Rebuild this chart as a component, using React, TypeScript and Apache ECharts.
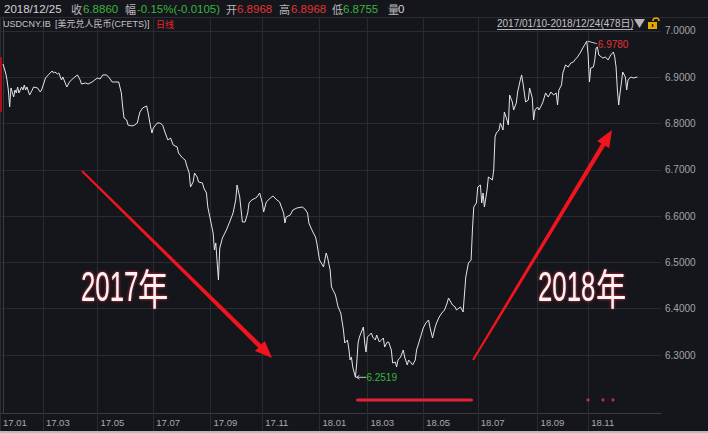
import React, { useEffect, useRef } from "react";
import * as echarts from "echarts";

// trading-day index (0 = 2017/01/10, 477 = 2018/12/24) and USDCNY rate
const tradingDays = [
  0, 2, 3, 4, 5, 6, 8, 9, 10, 11,
  12, 14, 15, 16, 17, 18, 20, 22, 23, 26,
  28, 29, 32, 34, 37, 38, 39, 41, 42, 44,
  45, 48, 50, 53, 56, 58, 59, 62, 64, 67,
  69, 71, 73, 75, 78, 80, 82, 84, 87, 89,
  90, 91, 93, 94, 97, 99, 101, 102, 103, 105,
  108, 109, 111, 112, 113, 116, 118, 120, 122, 124,
  126, 128, 131, 132, 135, 137, 138, 140, 141, 143,
  144, 146, 147, 150, 151, 153, 154, 156, 158, 159,
  160, 162, 163, 165, 168, 171, 173, 175, 176, 178,
  180, 182, 184, 185, 187, 190, 191, 193, 195, 196,
  198, 201, 203, 206, 208, 211, 212, 213, 216, 218,
  221, 225, 227, 229, 230, 233, 235, 236, 238, 241,
  243, 244, 246, 247, 250, 252, 254, 256, 257, 259,
  260, 261, 262, 263, 265, 266, 267, 268, 271, 272,
  273, 274, 277, 278, 280, 281, 283, 286, 287, 289,
  290, 292, 293, 295, 296, 297, 299, 301, 302, 304,
  305, 307, 308, 310, 311, 314, 316, 318, 320, 321,
  323, 325, 326, 328, 330, 332, 334, 335, 338, 340,
  341, 344, 346, 348, 350, 352, 353, 354, 356, 357,
  359, 360, 361, 362, 364, 365, 368, 369, 370, 371,
  373, 374, 376, 377, 379, 380, 381, 383, 384, 386,
  387, 389, 390, 391, 393, 395, 396, 398, 399, 400,
  402, 403, 405, 406, 408, 410, 412, 414, 416, 417,
  418, 420, 421, 423, 425, 427, 429, 430, 432, 434,
  436, 439, 440, 441, 442, 444, 445, 446, 447, 448,
  450, 451, 453, 455, 457, 459, 460, 461, 462, 463,
  464, 465, 466, 468, 469, 470, 472, 474, 477,
];

const closeRates = [
  6.9287, 6.9093, 6.8942, 6.8725, 6.8358, 6.8769, 6.8574, 6.8725, 6.8661, 6.879,
  6.8661, 6.879, 6.8725, 6.8833, 6.8725, 6.879, 6.8617, 6.8725, 6.879, 6.8769,
  6.8682, 6.8725, 6.8985, 6.905, 6.9136, 6.9093, 6.9114, 6.9071, 6.9093, 6.8942,
  6.9006, 6.879, 6.8898, 6.8985, 6.905, 6.8942, 6.8855, 6.8877, 6.8855, 6.8898,
  6.8942, 6.8985, 6.8963, 6.905, 6.905, 6.8985, 6.8898, 6.8898, 6.8898, 6.8661,
  6.8358, 6.8121, 6.8077, 6.7969, 6.7948, 6.7969, 6.8012, 6.8142, 6.825, 6.8337,
  6.838, 6.825, 6.7926, 6.7796, 6.7904, 6.8012, 6.8012, 6.7969, 6.7796, 6.7645,
  6.7688, 6.7537, 6.7494, 6.7364, 6.7256, 6.7213, 6.7105, 6.6932, 6.663, 6.6738,
  6.6932, 6.6846, 6.6738, 6.6716, 6.6608, 6.65, 6.6198, 6.5917, 6.5636, 6.5269,
  6.542, 6.4621, 6.5312, 6.5528, 6.5701, 6.5917, 6.6068, 6.6349, 6.6673, 6.6414,
  6.5874, 6.5874, 6.6068, 6.6284, 6.6349, 6.6392, 6.6414, 6.65, 6.6284, 6.609,
  6.6306, 6.6392, 6.6435, 6.6349, 6.6306, 6.6068, 6.5852, 6.5982, 6.6025, 6.6133,
  6.6176, 6.6198, 6.6155, 6.6068, 6.5852, 6.5658, 6.555, 6.542, 6.5053, 6.4902,
  6.5204, 6.5118, 6.4837, 6.447, 6.4297, 6.4038, 6.3908, 6.3541, 6.326, 6.3325,
  6.3152, 6.2893, 6.2957, 6.2741, 6.2519, 6.2828, 6.326, 6.3389, 6.3606, 6.326,
  6.3065, 6.3389, 6.3476, 6.3389, 6.3325, 6.3433, 6.3281, 6.3368, 6.3173, 6.3281,
  6.3281, 6.3109, 6.2828, 6.2849, 6.2741, 6.2893, 6.2957, 6.3109, 6.2957, 6.2785,
  6.2893, 6.2828, 6.2785, 6.2893, 6.3109, 6.3389, 6.3584, 6.3692, 6.3757, 6.3606,
  6.3368, 6.3606, 6.3692, 6.3822, 6.3908, 6.3973, 6.4124, 6.4232, 6.4081, 6.4038,
  6.3973, 6.4038, 6.393, 6.4686, 6.4988, 6.5053, 6.5701, 6.6198, 6.6284, 6.663,
  6.6673, 6.6284, 6.65, 6.6198, 6.6565, 6.6846, 6.6781, 6.6997, 6.771, 6.7796,
  6.7861, 6.8012, 6.7861, 6.825, 6.8077, 6.7969, 6.8617, 6.8466, 6.8293, 6.8445,
  6.8682, 6.8942, 6.905, 6.8877, 6.8466, 6.8509, 6.8769, 6.8553, 6.8077, 6.8293,
  6.8358, 6.8293, 6.8401, 6.8466, 6.8661, 6.8574, 6.8682, 6.8617, 6.8661, 6.8401,
  6.8725, 6.8833, 6.9093, 6.9266, 6.9222, 6.9309, 6.933, 6.9374, 6.9438, 6.9525,
  6.9633, 6.978, 6.9481, 6.8898, 6.9201, 6.9222, 6.9374, 6.9633, 6.9654, 6.9481,
  6.9438, 6.9417, 6.9438, 6.9374, 6.9481, 6.9546, 6.9438, 6.9222, 6.8725, 6.8401,
  6.8661, 6.8877, 6.9114, 6.9006, 6.8725, 6.8942, 6.9006, 6.8985, 6.9006,
];

const monthTickDays = [-2.2, 30, 71, 113, 156, 195, 238, 274, 316, 357, 402, 440];
const monthTickLabels = ["17.01", "17.03", "17.05", "17.07", "17.09", "17.11", "18.01", "18.03", "18.05", "18.07", "18.09", "18.11"];
const priceTicks = [6.3, 6.4, 6.5, 6.6, 6.7, 6.8, 6.9, 7.0];

const BG = "#15161b";
const GRID = "#2a2b31";
const FONT = '"Liberation Sans", "Noto Sans CJK SC", sans-serif';
const CJK = '"Noto Sans CJK SC", "Liberation Sans", sans-serif';
const GREEN = "#38b43c";
const RED = "#e03434";
const ARROW_RED = "#f0141e";

function arrowPoints(x1: number, y1: number, x2: number, y2: number, w1: number, w2: number, hl: number, hw: number) {
  const dx = x2 - x1, dy = y2 - y1;
  const len = Math.sqrt(dx * dx + dy * dy);
  const ux = dx / len, uy = dy / len;
  const nx = -uy, ny = ux;
  const bx = x2 - ux * hl, by = y2 - uy * hl;
  return [
    [x1 + nx * w1 / 2, y1 + ny * w1 / 2],
    [bx + nx * w2 / 2, by + ny * w2 / 2],
    [bx + nx * hw / 2, by + ny * hw / 2],
    [x2, y2],
    [bx - nx * hw / 2, by - ny * hw / 2],
    [bx - nx * w2 / 2, by - ny * w2 / 2],
    [x1 - nx * w1 / 2, y1 - ny * w1 / 2],
  ];
}

function txt(text: string, x: number, y: number, fill: string, size: number, family = FONT, extra: any = {}) {
  return {
    type: "text",
    x,
    y,
    z: 100,
    silent: true,
    style: { text, fill, fontSize: size, fontFamily: family, verticalAlign: "middle", align: "left", ...extra },
  };
}

export default function App() {
  const ref = useRef<HTMLDivElement>(null);

  useEffect(() => {
    const chart = echarts.init(ref.current!, null, { renderer: "svg" });
    const option: any = {
      animation: false,
      backgroundColor: BG,
      grid: { left: 0, right: 47, top: 17, bottom: 20, containLabel: false },
      xAxis: {
        type: "value",
        min: -2.26,
        max: 494.8,
        axisLine: { show: true, lineStyle: { color: "#3a3b41", width: 1 } },
        axisTick: { show: true, customValues: monthTickDays, length: 18, lineStyle: { color: GRID } },
        axisLabel: {
          customValues: monthTickDays,
          formatter: (v: number) => {
            let best = 0;
            monthTickDays.forEach((m, i) => {
              if (Math.abs(m - v) < Math.abs(monthTickDays[best] - v)) best = i;
            });
            return monthTickLabels[best];
          },
          align: "left",
          padding: [0, 0, 0, 3],
          margin: 5,
          color: "#a9a9ad",
          fontSize: 9.5,
          fontFamily: FONT,
        },
        splitLine: { show: true, lineStyle: { color: GRID, width: 1 } },
      },
      yAxis: {
        type: "value",
        position: "right",
        min: 6.1748,
        max: 7.0302,
        axisLine: { show: true, lineStyle: { color: "#3a3b41" } },
        axisTick: { show: false, customValues: priceTicks },
        axisLabel: {
          customValues: priceTicks,
          formatter: (v: number) => v.toFixed(4),
          margin: 4,
          color: "#a4a4a8",
          fontSize: 10,
          fontFamily: FONT,
        },
        splitLine: { show: true, lineStyle: { color: GRID, width: 1 } },
      },
      series: [
        {
          type: "line",
          data: tradingDays.map((d, i) => [d, closeRates[i]]),
          showSymbol: false,
          symbol: "none",
          lineStyle: { color: "#e4e4e6", width: 1 },
          z: 5,
        },
      ],
    };
    chart.setOption(option);

    let maxI = 0, minI = 0;
    closeRates.forEach((v, i) => {
      if (v > closeRates[maxI]) maxI = i;
      if (v < closeRates[minI]) minI = i;
    });
    const pMax = chart.convertToPixel({ gridIndex: 0 }, [tradingDays[maxI], closeRates[maxI]]) as number[];
    const pMin = chart.convertToPixel({ gridIndex: 0 }, [tradingDays[minI], closeRates[minI]]) as number[];

    const graphics: any[] = [
      // header separator
      { type: "line", z: 90, silent: true, shape: { x1: 0, y1: 17.5, x2: 708, y2: 17.5 }, style: { stroke: "#2c2d33", lineWidth: 1 } },
      // bottom strip
      { type: "rect", z: 90, silent: true, shape: { x: 0, y: 431, width: 708, height: 2 }, style: { fill: "#b9b9bd" } },
      // left red bar
      { type: "rect", z: 90, silent: true, shape: { x: 0, y: 57, width: 2, height: 55 }, style: { fill: "#a8101e" } },

      // header row 1
      txt("2018/12/25", 4, 9, "#d2d2d4", 11.5),
      txt("收", 71, 9, "#b8b8bb", 11, CJK),
      txt("6.8860", 83, 9, GREEN, 11.5),
      txt("幅", 125, 9, "#b8b8bb", 11, CJK),
      txt("-0.15%(-0.0105)", 137, 9, GREEN, 11.5),
      txt("开", 226, 9, "#b8b8bb", 11, CJK),
      txt("6.8968", 237, 9, RED, 11.5),
      txt("高", 279, 9, "#b8b8bb", 11, CJK),
      txt("6.8968", 291, 9, RED, 11.5),
      txt("低", 332, 9, "#b8b8bb", 11, CJK),
      txt("6.8755", 343, 9, GREEN, 11.5),
      txt("量", 388, 9, "#b8b8bb", 11, CJK),
      txt("0", 398, 9, "#d2d2d4", 11.5),

      // header row 2
      txt("USDCNY.IB", 3, 24, "#c4c4c8", 9),
      txt("[美元兑人民币(CFETS)]", 55, 24, "#c4c4c8", 9),
      txt("日线", 156, 24, "#e02828", 9, CJK),
      txt("2017/01/10-2018/12/24(478日)", 497, 23, "#c4c4c8", 10),
      { type: "line", z: 100, silent: true, shape: { x1: 497, y1: 29.5, x2: 633, y2: 29.5 }, style: { stroke: "#b4b4b8", lineWidth: 1 } },
      { type: "polygon", z: 100, silent: true, shape: { points: [[634, 19], [645, 19], [639.5, 28]] }, style: { fill: "#b4b4b8" } },
      { type: "rect", z: 100, silent: true, shape: { x: 648, y: 22, width: 9, height: 7 }, style: { fill: "#e2a800" } },
      { type: "rect", z: 101, silent: true, shape: { x: 651.8, y: 24, width: 1.6, height: 3 }, style: { fill: "#3a2a00" } },
      { type: "arc", z: 100, silent: true, shape: { cx: 656, cy: 21, r: 3, startAngle: Math.PI, endAngle: Math.PI * 2 }, style: { stroke: "#e2a800", lineWidth: 1.5, fill: "none" } },

      // max annotation
      { type: "line", z: 100, silent: true, shape: { x1: pMax[0] + 1, y1: pMax[1], x2: pMax[0] + 10, y2: pMax[1] + 2.5 }, style: { stroke: "#c8c8cc", lineWidth: 1 } },
      txt(closeRates[maxI].toFixed(4), pMax[0] + 11, pMax[1] + 3.5, RED, 10),

      // min annotation
      { type: "line", z: 100, silent: true, shape: { x1: pMin[0] + 1, y1: pMin[1], x2: pMin[0] + 11, y2: pMin[1] }, style: { stroke: "#c8c8cc", lineWidth: 1 } },
      { type: "polyline", z: 100, silent: true, shape: { points: [[pMin[0] + 4, pMin[1] - 2], [pMin[0] + 1, pMin[1]], [pMin[0] + 4, pMin[1] + 2]] }, style: { stroke: "#c8c8cc", lineWidth: 1, fill: "none" } },
      txt(closeRates[minI].toFixed(4), pMin[0] + 11, pMin[1], GREEN, 10),

      // red markers near the bottom
      { type: "rect", z: 100, silent: true, shape: { x: 356, y: 398.5, width: 117, height: 3, r: 1.5 }, style: { fill: "#e8203c" } },
      { type: "circle", z: 100, silent: true, shape: { cx: 588, cy: 400, r: 1.6 }, style: { fill: "#d8203a" } },
      { type: "circle", z: 100, silent: true, shape: { cx: 603, cy: 400, r: 1.6 }, style: { fill: "#d8203a" } },
      { type: "circle", z: 100, silent: true, shape: { cx: 613, cy: 400, r: 1.6 }, style: { fill: "#d8203a" } },

      // arrows
      { type: "polygon", z: 100, silent: true, shape: { points: arrowPoints(82, 171, 272, 358, 2, 4.5, 17, 14) }, style: { fill: ARROW_RED } },
      { type: "polygon", z: 100, silent: true, shape: { points: arrowPoints(473, 360, 612, 130, 2, 4.5, 17, 14) }, style: { fill: ARROW_RED } },

      // big year labels
      { type: "text", z: 100, silent: true, x: 81, y: 286, scaleX: 0.6, style: { text: "2017", fill: "#fff2f3", fontSize: 43, fontFamily: FONT, verticalAlign: "middle", align: "left", textShadowColor: "rgba(255,40,60,0.9)", textShadowBlur: 3 } },
      { type: "text", z: 100, silent: true, x: 138, y: 287, scaleX: 0.72, style: { text: "年", fill: "#fff2f3", fontSize: 42, fontFamily: CJK, verticalAlign: "middle", align: "left", textShadowColor: "rgba(255,40,60,0.9)", textShadowBlur: 3 } },
      { type: "text", z: 100, silent: true, x: 538, y: 286, scaleX: 0.6, style: { text: "2018", fill: "#fff2f3", fontSize: 43, fontFamily: FONT, verticalAlign: "middle", align: "left", textShadowColor: "rgba(255,40,60,0.9)", textShadowBlur: 3 } },
      { type: "text", z: 100, silent: true, x: 596, y: 287, scaleX: 0.72, style: { text: "年", fill: "#fff2f3", fontSize: 42, fontFamily: CJK, verticalAlign: "middle", align: "left", textShadowColor: "rgba(255,40,60,0.9)", textShadowBlur: 3 } },
    ];

    chart.setOption({ graphic: graphics });

    return () => chart.dispose();
  }, []);

  return (
    <div
      ref={ref}
      style={{ position: "fixed", left: 0, top: 0, width: 708, height: 433, background: BG }}
    />
  );
}
